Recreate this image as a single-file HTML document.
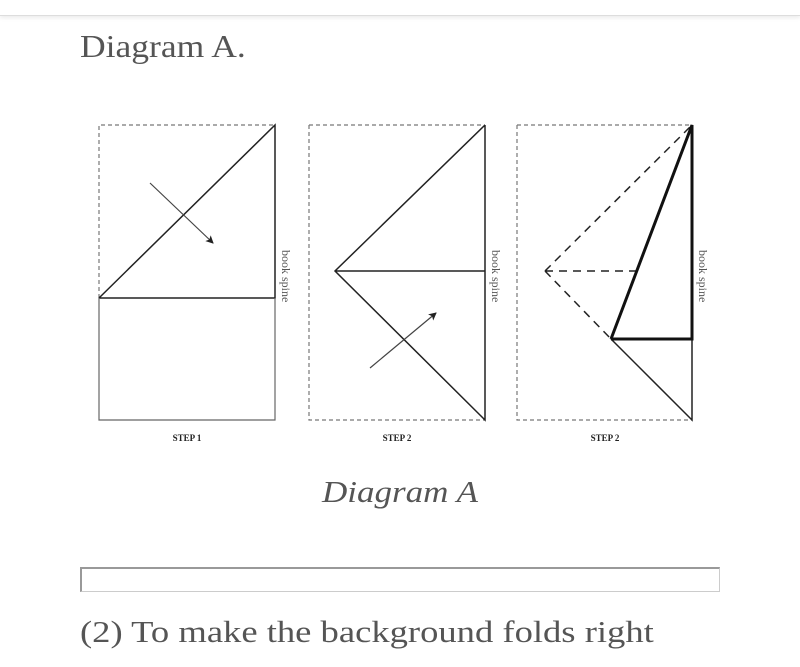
<!DOCTYPE html>
<html><head><style>
body{margin:0;width:800px;height:667px;background:#fff;overflow:hidden;position:relative;font-family:"Liberation Serif",serif;}
.bar{position:absolute;left:0;top:0;width:800px;height:15px;border-bottom:1px solid #ddd;box-shadow:0 2px 4px rgba(0,0,0,0.08);}
.t1{position:absolute;left:80px;top:28px;font-size:32px;color:#555;transform:scaleX(1.11);transform-origin:0 0;white-space:nowrap;}
.t2{position:absolute;left:0;width:800px;text-align:center;top:474px;font-size:31px;font-style:italic;color:#555;transform:scaleX(1.13);transform-origin:400px 0;}
.box{position:absolute;left:80px;top:567px;width:637px;height:22px;border:1px solid #ccc;border-top:2px solid #999;border-left:2px solid #999;}
.t3{position:absolute;left:80px;top:614px;font-size:31px;color:#555;transform:scaleX(1.18);transform-origin:0 0;white-space:nowrap;}
</style></head><body>
<div class="bar"></div>
<div class="t1">Diagram A.</div>
<svg width="800" height="667" style="position:absolute;left:0;top:0">
<defs><marker id="a" markerWidth="8" markerHeight="8" refX="7" refY="4" orient="auto" markerUnits="userSpaceOnUse"><path d="M0,0 L8,4 L0,8 L2,4z" fill="#222"/></marker></defs>
<g fill="none" stroke="#777" stroke-width="1.2" stroke-dasharray="4,3">
<path d="M99,298 V125 H275"/>
<path d="M309,125 H485 M309,125 V420 H485"/>
<path d="M517,125 H692 M517,125 V420 H692"/>
</g>
<g fill="none" stroke="#222" stroke-width="1.5">
<path d="M99,298 L275,125 V298 H99"/>
<path d="M485,125 L335,271 L485,420 V125 M335,271 H485"/>
<path d="M611,339 L692,420 V339"/>
</g>
<path d="M99,298 V420 H275 V298" fill="none" stroke="#666" stroke-width="1.2"/>
<path d="M150,183 L213,243" stroke="#444" stroke-width="1.2" marker-end="url(#a)"/>
<path d="M370,368 L436,313" stroke="#444" stroke-width="1.2" marker-end="url(#a)"/>
<g fill="none" stroke="#222" stroke-width="1.5" stroke-dasharray="8,6">
<path d="M545,271 L692,125 M545,271 H636 M545,271 L611,339"/>
</g>
<path d="M611,339 L692,125 V339 H611" fill="none" stroke="#111" stroke-width="3"/>
<g font-family="Liberation Serif" font-size="9" font-weight="bold" fill="#222" text-anchor="middle">
<text x="187" y="441">STEP 1</text><text x="397" y="441">STEP 2</text><text x="605" y="441">STEP 2</text>
</g>
<g font-family="Liberation Serif" font-size="12" fill="#555">
<text transform="translate(282,250) rotate(90)">book spine</text>
<text transform="translate(492,250) rotate(90)">book spine</text>
<text transform="translate(699,250) rotate(90)">book spine</text>
</g>
</svg>
<div class="t2">Diagram A</div>
<div class="box"></div>
<div class="t3">(2) To make the background folds right</div>
</body></html>
